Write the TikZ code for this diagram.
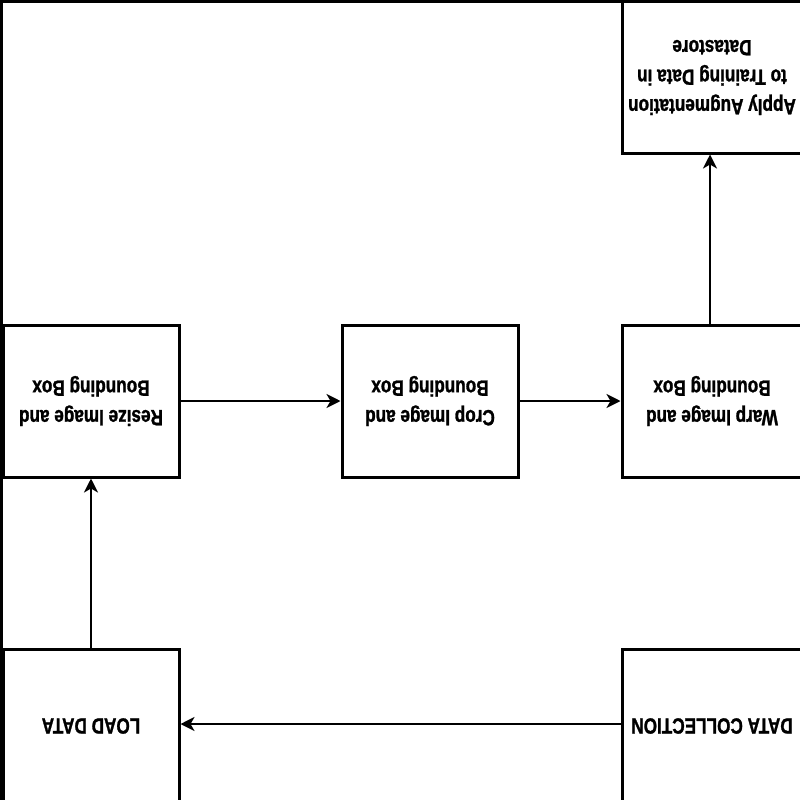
\documentclass[tikz,border=0pt]{standalone}
\usepackage{fontspec}
\newfontfamily\labfont{Liberation Sans}[FakeStretch=0.78, BoldFeatures={FakeBold=1.2}]
\usetikzlibrary{arrows.meta}
\tikzset{
  stagebox/.style={draw=black, line width=3pt, fill=white, minimum width=176pt, minimum height=152pt,
    inner sep=0pt, align=center, rotate=180, font=\labfont\bfseries\fontsize{22}{29.5}\selectfont},
  rightcol/.style={minimum width=180pt},
  flow/.style={line width=2.8pt, -{Stealth[length=14pt,width=14pt,inset=4pt]}},
  frame/.style={line width=3pt}
}
\begin{document}
\begin{tikzpicture}[x=1pt,y=-1pt]
\useasboundingbox (0,0) rectangle (800,800);
\coordinate (tl) at (1.5,1.5);
\coordinate (bl) at (1.5,800);
\coordinate (tr) at (622,1.5);
\draw[frame] (bl) -- (tl) -- (tr);
\node[stagebox, rightcol, minimum height=151pt] (apply) at (712,77.5) {Apply Augmentation\\to Training Data in\\Datastore};
\node[stagebox] (resize) at (91,401) {Resize Image and\\Bounding Box};
\node[stagebox] (crop) at (430,401) {Crop Image and\\Bounding Box};
\node[stagebox, rightcol] (warp) at (712,401) {Warp Image and\\Bounding Box};
\node[stagebox, minimum height=154pt] (load) at (91,726) {LOAD DATA};
\node[stagebox, rightcol, minimum height=154pt] (collect) at (712,726) {DATA COLLECTION};
\coordinate (c1) at (collect.east |- 724,724);
\coordinate (l1) at (load.west |- 724,724);
\draw[flow] (c1) -- (l1);
\draw[flow] (load.south) -- (resize.north);
\draw[flow] (resize.west) -- (crop.east);
\draw[flow] (crop.west) -- (warp.east);
\coordinate (w1) at (710,0 |- warp.south);
\coordinate (a1) at (710,0 |- apply.north);
\draw[flow] (w1) -- (a1);
\end{tikzpicture}
\end{document}
